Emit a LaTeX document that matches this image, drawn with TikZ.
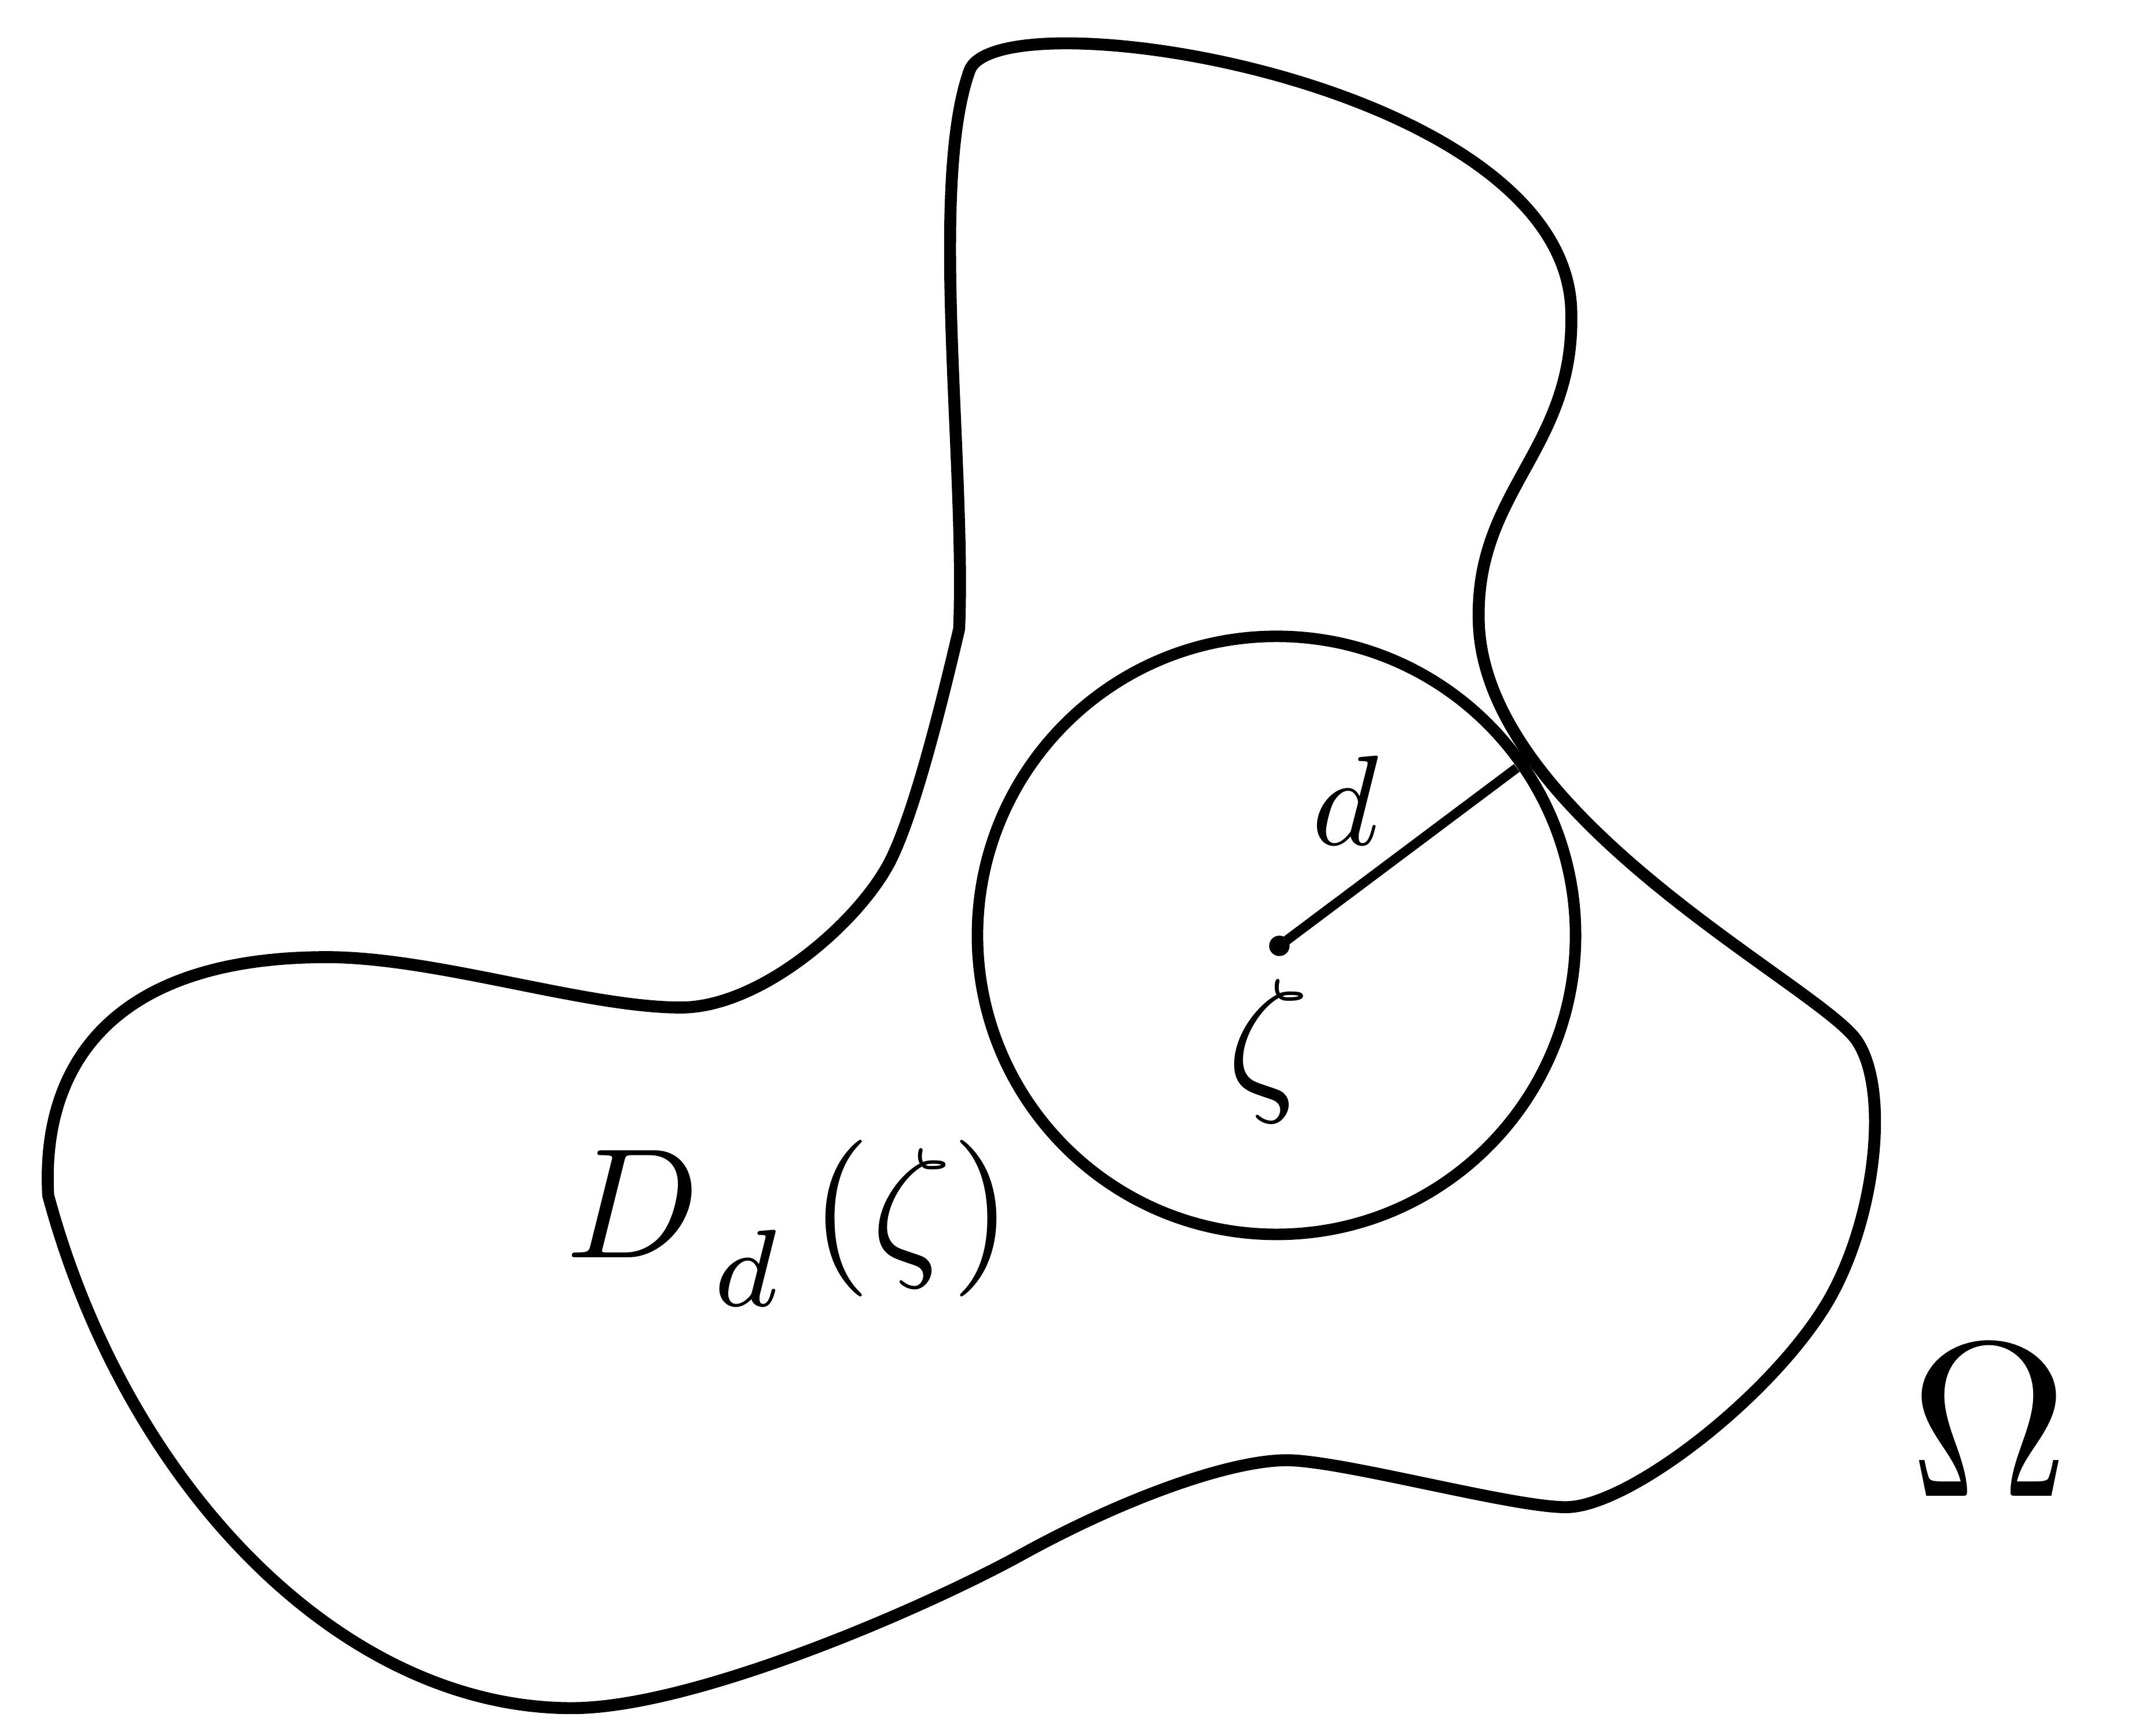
\documentclass[tikz,border=0pt]{standalone}
\begin{document}
\begin{tikzpicture}[x=0.01cm,y=-0.01cm,
  blob/.style={line width=2.5pt, line join=round},
  disc/.style={line width=2.4pt},
  radiusline/.style={line width=2pt},
  lbl/.style={inner sep=0pt, outer sep=0pt, anchor=base west}]
\useasboundingbox (0,0) rectangle (1568,1275);
% domain boundary Omega
\draw[blob] (704.4,462)
  .. controls (709.5,342) and (682,136) .. (712,52)
  .. controls (732,-5) and (1154,60) .. (1154,231)
  .. controls (1156,330) and (1084,360) .. (1086,455)
  .. controls (1088,600) and (1334.8,723) .. (1363.5,764)
  .. controls (1389,801) and (1377,900.5) .. (1340,960)
  .. controls (1297,1029) and (1195,1107) .. (1150,1107)
  .. controls (1110,1107) and (985,1072.5) .. (945,1072.5)
  .. controls (905,1072.5) and (828.8,1098.6) .. (750,1142)
  .. controls (679.9,1180.6) and (510,1254.6) .. (420,1254.6)
  .. controls (250,1254.6) and (92.6,1090.5) .. (35.4,878)
  .. controls (30,780) and (85,703) .. (240,703)
  .. controls (320,703) and (430,740) .. (500,740)
  .. controls (560,740) and (633.5,675) .. (655,630)
  .. controls (672.2,594) and (690.7,520.4) .. cycle;
% disc D_d(zeta)
\coordinate (c) at (937.5,687);
\draw[disc] (c) circle[radius=2.195cm];
% centre and radius
\coordinate (z) at (939.6,694.7);
\coordinate (e) at (1114,564);
\draw[radiusline] (z) -- (e);
\fill (z) circle[radius=0.075cm];
% labels
\node[lbl, scale=2.675] (dlabel) at (963.6,620.5) {$d$};
\node[lbl, scale=3.364] (zetalabel) at (901,801.7) {$\zeta$};
\node[lbl, scale=3.272] (Dlabel) at (415.6,923.5)
  {$D\kern0.84pt\lower3.1pt\hbox{$\scriptstyle d$}\kern2.05pt(\zeta)$};
\node[lbl, scale=4.609] (Omegalabel) at (1402.4,1099) {$\Omega$};
\end{tikzpicture}
\end{document}
